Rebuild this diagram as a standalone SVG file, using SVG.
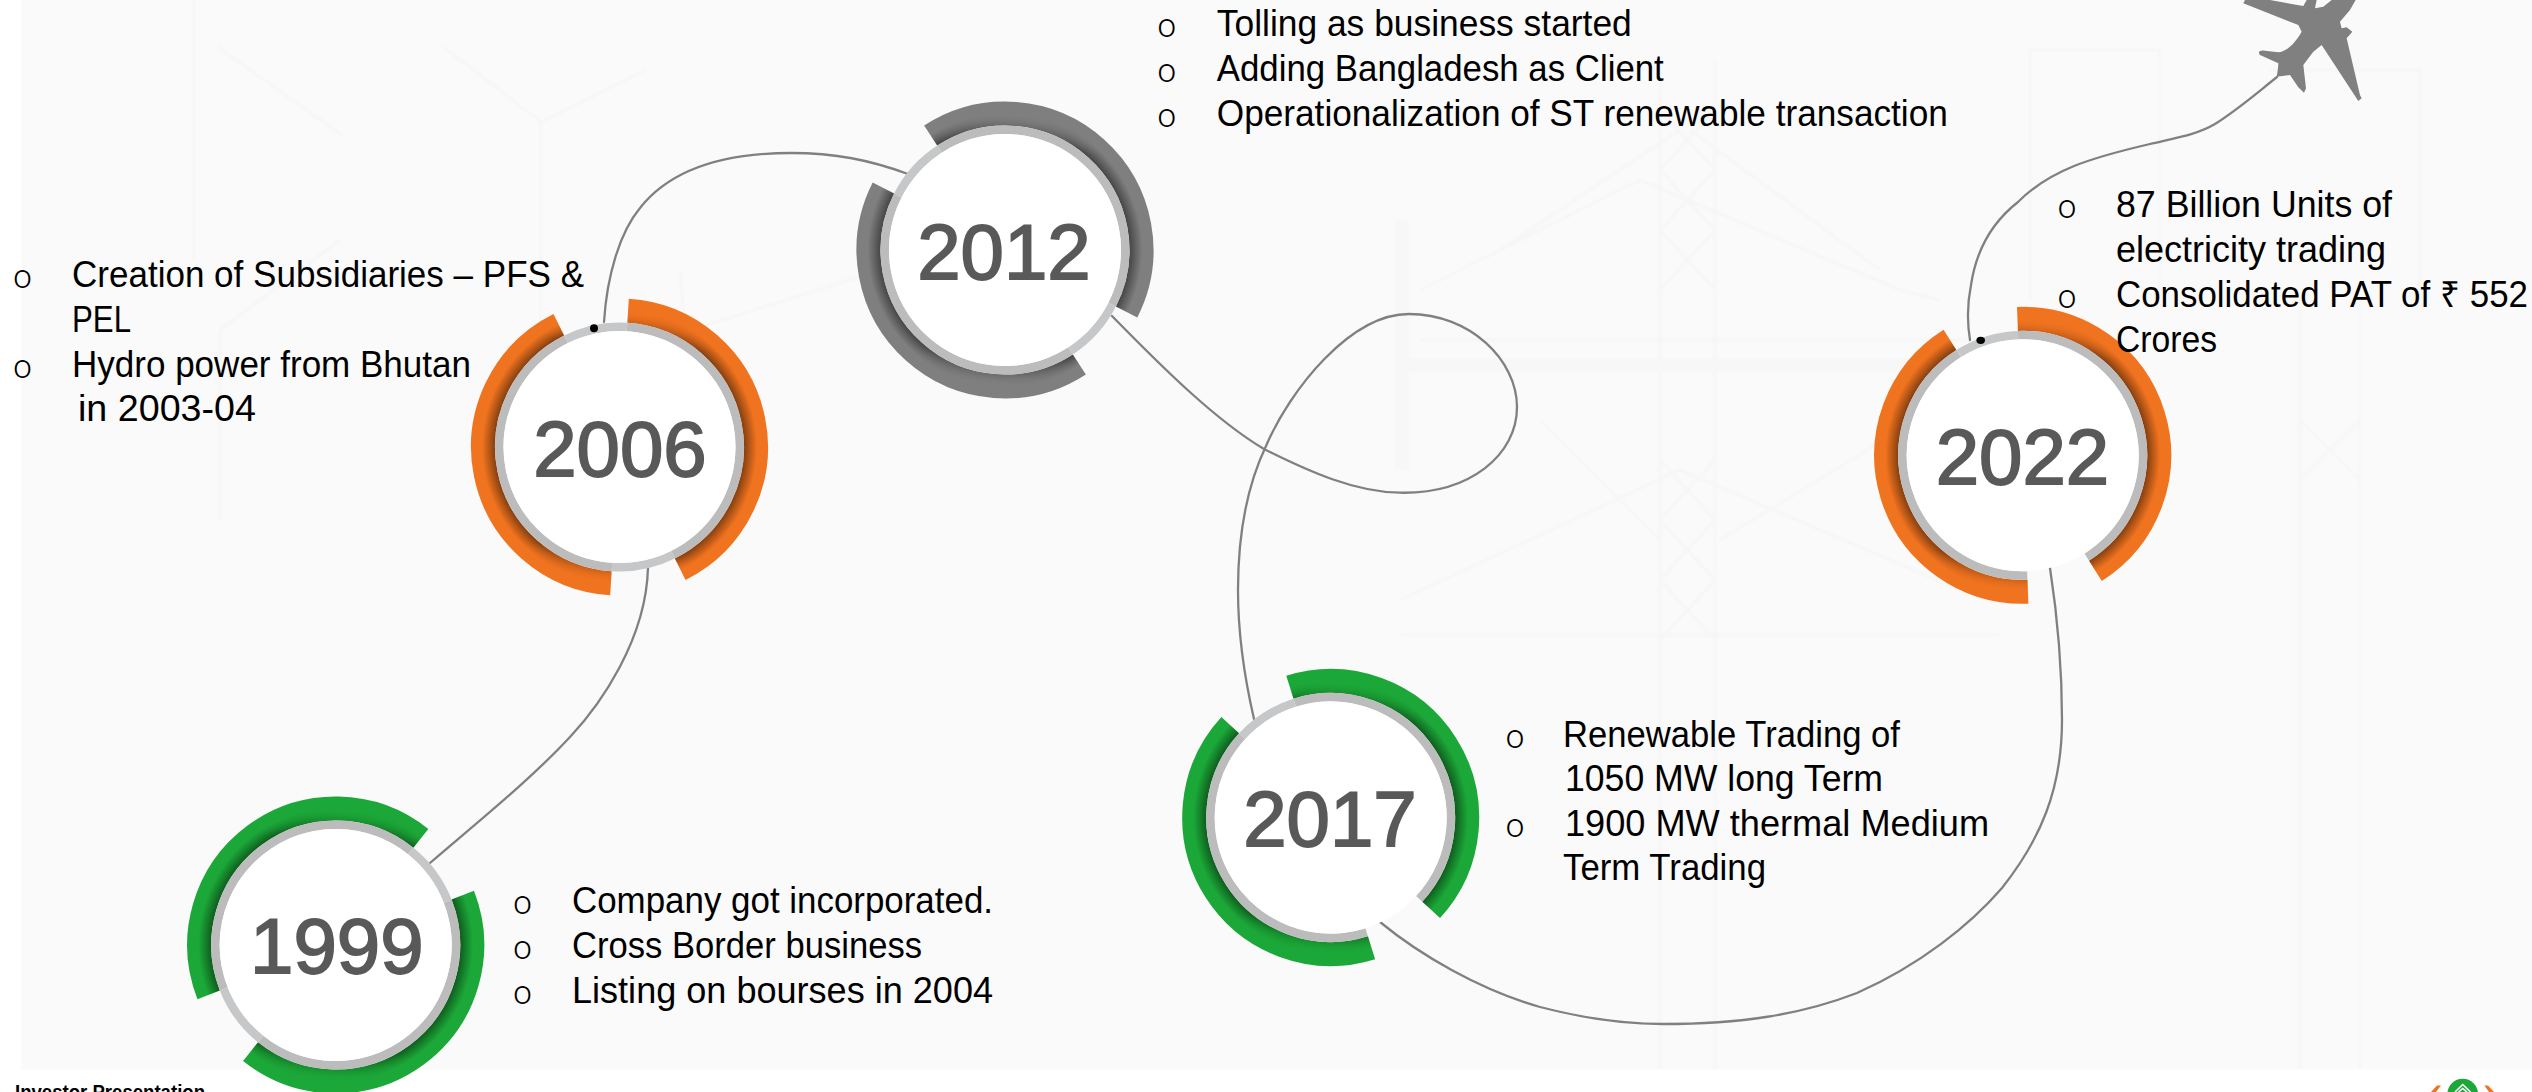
<svg xmlns="http://www.w3.org/2000/svg" xmlns:xlink="http://www.w3.org/1999/xlink" width="2532" height="1092" viewBox="0 0 2532 1092">
<style>
.wire{fill:none;stroke:#808080;stroke-width:2.3;stroke-linecap:round}
.wm{fill:none;stroke:#f6f6f6;stroke-width:3}
.wmb{fill:none;stroke:#f7f7f7;stroke-width:14}
.seg{fill:none;stroke:currentColor;stroke-width:24}
.shd{fill:none;stroke:url(#shade);stroke-width:24}
.lite{fill:none;stroke:#c6c7c9;stroke-width:8.5}
.dark{fill:none;stroke:#bcbcbc;stroke-width:8.5}
.year{font:78px "Liberation Sans",Arial,sans-serif;fill:#595959;stroke:#595959;stroke-width:1.8;text-anchor:middle}
.body{font:36px "Liberation Sans",Arial,sans-serif;fill:#000}
.bul{font:300 33px Roboto,"Liberation Sans",sans-serif;fill:#000;text-anchor:middle}
.foot{font:bold 20px "Liberation Sans",Arial,sans-serif;fill:#000}
</style>
<defs>
<radialGradient id="shade" gradientUnits="userSpaceOnUse" cx="0" cy="0" r="150">
<stop offset="0.83" stop-color="#000" stop-opacity="0.45"/>
<stop offset="0.865" stop-color="#000" stop-opacity="0.26"/>
<stop offset="0.915" stop-color="#000" stop-opacity="0"/>
</radialGradient>
<linearGradient id="fade" gradientUnits="userSpaceOnUse" x1="11.8" y1="-134.5" x2="-11.8" y2="134.5">
<stop offset="0" stop-color="#000"/><stop offset="0.12" stop-color="#fff"/><stop offset="0.88" stop-color="#fff"/><stop offset="1" stop-color="#000"/>
</linearGradient>
<mask id="axisfade" maskUnits="userSpaceOnUse" x="-160" y="-160" width="320" height="320">
<rect x="-160" y="-160" width="320" height="320" fill="url(#fade)"/>
</mask>
<path id="seg1" class="seg" d="M8.57 -136.23A136.5 136.5 0 0 1 60.7 122.26"/>
<path id="shd1" class="shd" d="M8.57 -136.23A136.5 136.5 0 0 1 60.7 122.26"/>
<path id="drk1" class="dark" d="M7.55 -120.01A120.25 120.25 0 0 1 53.46 107.7"/>
<g id="segs"><use href="#seg1"/><use href="#seg1" transform="rotate(180)"/></g>
<g id="shds"><use href="#shd1"/><use href="#shd1" transform="rotate(180)"/></g>
<g id="grey">
<use href="#drk1"/><use href="#drk1" transform="rotate(180)"/>
<path class="lite" d="M-53.46 -107.7A120.25 120.25 0 0 1 7.55 -120.01"/>
</g>
<path id="gap2" class="lite" d="M53.46 107.7A120.25 120.25 0 0 1 -7.55 120.01"/>
<filter id="soft" x="-5%" y="-5%" width="110%" height="110%"><feGaussianBlur stdDeviation="1.2"/></filter>
</defs>

<rect width="2532" height="1092" fill="#fff"/>
<rect x="21" y="0" width="2511" height="1069.5" fill="#fafafa"/>

<g id="watermark" filter="url(#soft)">
<path class="wm" d="M541 122V420M541 122L444 47M541 122L646 70M194 0V260M218 47L343 136"/>
<path class="wm" d="M340 240L220 330M220 330V520M880 270L660 340M680 270L700 520"/>
<path class="wmb" d="M1402 220V470"/>
<path class="wm" d="M1660 60V1069M1715 60V1069M1660 110L1715 170M1715 110L1660 170M1660 170L1715 230M1715 170L1660 230M1660 230L1715 290M1715 230L1660 290M1660 460L1715 520M1715 460L1660 520M1660 520L1715 580M1715 520L1660 580M1660 580L1715 640M1715 580L1660 640"/>
<path class="wm" d="M1420 290L1640 180L1900 290L1940 300M1420 340H2130M1500 250L1680 130M1880 270L1690 130"/>
<path class="wm" d="M1400 600L1680 470L1960 590M1400 635H2000M1540 420L1660 540M1900 430L1720 540"/>
<path class="wm" d="M2030 50H2160V300M2030 50V300M2270 70H2420V300M2300 300V1069M2360 300V1069M2300 420L2360 480M2360 420L2300 480"/>
<path class="wmb" d="M1400 365L2000 365"/>
</g>

<g id="connectors">
<path class="wire" d="M430 863C480 820 530 780 570 737C600 705 646 640 648 568"/>
<path class="wire" d="M604 322C607 275 620 232 640 208C670 170 720 153 791 153C835 153 870 160 908 174"/>
<path class="wire" d="M1112 316C1160 365 1215 420 1264 449C1310 472 1355 492 1400 492.7C1470 494 1517 455 1517 407C1517 360 1470 314 1409 314C1350 314 1290 390 1266 446C1245 490 1238 540 1238 590C1238 640 1245 680 1254 719"/>
<path class="wire" d="M1380 922C1420 955 1480 990 1540 1007C1590 1020 1630 1024 1663 1024C1740 1024 1800 1015 1857 993C1920 965 1970 925 2002 888C2040 840 2062 790 2062 720C2062 670 2058 620 2050 568"/>
<path class="wire" d="M1970 340C1967 322 1967 305 1971 285C1977 245 1995 220 2018 202C2050 170 2090 158 2150 144C2180 137 2198 134 2215 124C2240 108 2258 92 2277 77"/>
</g>

<g id="plane">
<path transform="translate(2150 0) scale(0.3333)" fill="#808080" d="M380 230C383 215 385 200 385 190L330 165C322 155 330 150 345 152L385 157C410 155 435 130 455 95L445 75L280 10L285 0L360 0L460 18L470 0L500 0L495 25L520 20L545 0L617 0L600 30L570 65L575 85L590 82L607 95L590 115L630 285L635 295L625 303L515 135L490 155L460 195L468 265L462 278L445 262L420 225Z"/>
</g>

<g id="node-1999" style="color:#1ca838">
<g transform="translate(335.7 945)"><use href="#segs" transform="rotate(65)"/><g mask="url(#axisfade)"><use href="#shds" transform="rotate(65)"/></g><use href="#grey" transform="rotate(65)"/><use href="#gap2" transform="rotate(65)"/><circle r="116" fill="#fff"/></g>
<text class="year" x="336.8" y="973">1999</text>
<text class="bul" x="522.6" y="914">o</text><text class="body" x="572" y="913" textLength="421" lengthAdjust="spacingAndGlyphs">Company got incorporated.</text>
<text class="bul" x="522.6" y="959">o</text><text class="body" x="572" y="958" textLength="350" lengthAdjust="spacingAndGlyphs">Cross Border business</text>
<text class="bul" x="522.6" y="1003.7">o</text><text class="body" x="572" y="1002.7" textLength="421" lengthAdjust="spacingAndGlyphs">Listing on bourses in 2004</text>
</g>

<g id="node-2006" style="color:#f0731f">
<g transform="translate(619.5 447)"><use href="#segs"/><g mask="url(#axisfade)"><use href="#shds"/></g><use href="#grey"/><use href="#gap2"/><circle r="116" fill="#fff"/></g>
<circle cx="594" cy="328.3" r="4" fill="#000"/>
<text class="year" x="620" y="476">2006</text>
<text class="bul" x="22.6" y="288">o</text><text class="body" x="72" y="287" textLength="512" lengthAdjust="spacingAndGlyphs">Creation of Subsidiaries – PFS &amp;</text>
<text class="body" x="72" y="331.5" textLength="59" lengthAdjust="spacingAndGlyphs">PEL</text>
<text class="bul" x="22.6" y="377.5">o</text><text class="body" x="72" y="376.5" textLength="399" lengthAdjust="spacingAndGlyphs">Hydro power from Bhutan</text>
<text class="body" x="78" y="420.5" textLength="178" lengthAdjust="spacingAndGlyphs">in 2003-04</text>
</g>

<g id="node-2012" style="color:#7f7f7f">
<g transform="translate(1005 250)"><use href="#segs" transform="rotate(-36.6)"/><g mask="url(#axisfade)"><use href="#shds" transform="rotate(-36.6)"/></g><use href="#grey" transform="rotate(-36.6)"/><use href="#gap2" transform="rotate(-36.6)"/><circle r="116" fill="#fff"/></g>
<text class="year" x="1004" y="278.5">2012</text>
<text class="bul" x="1166.7" y="37">o</text><text class="body" x="1216.8" y="36" textLength="415" lengthAdjust="spacingAndGlyphs">Tolling as business started</text>
<text class="bul" x="1166.7" y="81.5">o</text><text class="body" x="1216.8" y="80.5" textLength="447" lengthAdjust="spacingAndGlyphs">Adding Bangladesh as Client</text>
<text class="bul" x="1166.7" y="126.5">o</text><text class="body" x="1216.8" y="125.5" textLength="731" lengthAdjust="spacingAndGlyphs">Operationalization of ST renewable transaction</text>
</g>

<g id="node-2017" style="color:#1ca838">
<g transform="translate(1330.7 817.5)"><use href="#segs" transform="rotate(-21)"/><g mask="url(#axisfade)"><use href="#shds" transform="rotate(-21)"/></g><use href="#grey" transform="rotate(-21)"/><circle r="116" fill="#fff"/></g>
<text class="year" x="1330" y="846">2017</text>
<text class="bul" x="1515" y="748">o</text><text class="body" x="1563" y="747" textLength="337" lengthAdjust="spacingAndGlyphs">Renewable Trading of</text>
<text class="body" x="1565" y="791" textLength="318" lengthAdjust="spacingAndGlyphs">1050 MW long Term</text>
<text class="bul" x="1515" y="836.5">o</text><text class="body" x="1565" y="835.5" textLength="424" lengthAdjust="spacingAndGlyphs">1900 MW thermal Medium</text>
<text class="body" x="1563" y="880" textLength="203" lengthAdjust="spacingAndGlyphs">Term Trading</text>
</g>

<g id="node-2022" style="color:#f0731f">
<g transform="translate(2022.7 455.3)"><use href="#segs" transform="rotate(-5.8)"/><g mask="url(#axisfade)"><use href="#shds" transform="rotate(-5.8)"/></g><use href="#grey" transform="rotate(-5.8)"/><circle r="116" fill="#fff"/></g>
<ellipse cx="1980.7" cy="340.3" rx="4.3" ry="3.6" fill="#000"/>
<text class="year" x="2022.5" y="484">2022</text>
<text class="bul" x="2067" y="218">o</text><text class="body" x="2116" y="217" textLength="276" lengthAdjust="spacingAndGlyphs">87 Billion Units of</text>
<text class="body" x="2116" y="262" textLength="270" lengthAdjust="spacingAndGlyphs">electricity trading</text>
<text class="bul" x="2067" y="308">o</text><text class="body" x="2116" y="307" textLength="412" lengthAdjust="spacingAndGlyphs">Consolidated PAT of ₹ 552</text>
<text class="body" x="2116" y="351.5" textLength="101" lengthAdjust="spacingAndGlyphs">Crores</text>
</g>

<g id="footer">
<text class="foot" x="15" y="1098.5" textLength="190" lengthAdjust="spacingAndGlyphs">Investor Presentation</text>
<circle cx="2462.7" cy="1094" r="15.3" fill="#1ca838"/>
<path d="M2455 1092L2462.7 1084.5L2470.5 1092M2458.5 1092L2462.7 1088.5L2467 1092" fill="none" stroke="#fff" stroke-width="1.6"/>
<path d="M2431 1092L2437 1085.5H2441L2436 1092ZM2484.3 1085.5H2488L2494 1092H2489Z" fill="#f0731f"/>
</g>
</svg>
